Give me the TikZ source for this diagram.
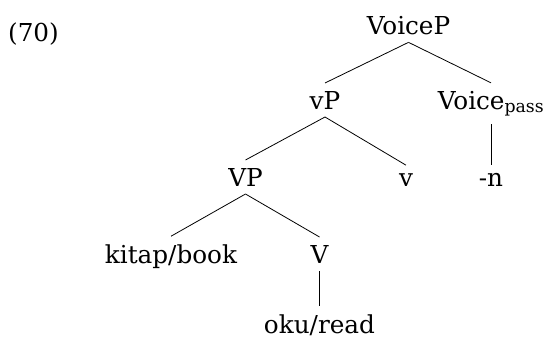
\documentclass[tikz,border=0pt]{standalone}
\usepackage{fontspec}
\setmainfont{DejaVu Serif}
\usepackage{tikz}

\begin{document}
\begin{tikzpicture}[x=1pt,y=-1pt,
        lbl/.style={anchor=base,inner sep=8pt,outer sep=0pt,font=\fontsize{24.7}{30}\selectfont}]
        \useasboundingbox (0,0) rectangle (545,340);
        \node[lbl] (ex) at (33.5,41) {(70)};
        \node[lbl] (VoiceP) at (408.5,34) {VoiceP};
        \node[lbl] (vP) at (325,109) {vP};
        \node[lbl] (Voice) at (491,109) {Voice\textsubscript{pass}};
        \node[lbl] (VP) at (245.5,186) {VP};
        \node[lbl] (v) at (406,186) {v};
        \node[lbl] (n) at (491,186) {-n};
        \node[lbl] (book) at (171,263) {kitap/book};
        \node[lbl] (V) at (319.5,263) {V};
        \node[lbl] (read) at (319.5,333) {oku/read};
        \path [-,line width=0.8pt] (VoiceP.south) edge (vP.north);
        \path [-,line width=0.8pt] (VoiceP.south) edge (Voice.north);
        \path [-,line width=0.8pt] (vP.south) edge (VP.north);
        \path [-,line width=0.8pt] (vP.south) edge (v.north);
        \path [-,line width=0.8pt] (Voice.south) edge (n.north);
        \path [-,line width=0.8pt] (VP.south) edge (book.north);
        \path [-,line width=0.8pt] (VP.south) edge (V.north);
        \path [-,line width=0.8pt] (V.south) edge (read.north);
    \end{tikzpicture}
\end{document}
